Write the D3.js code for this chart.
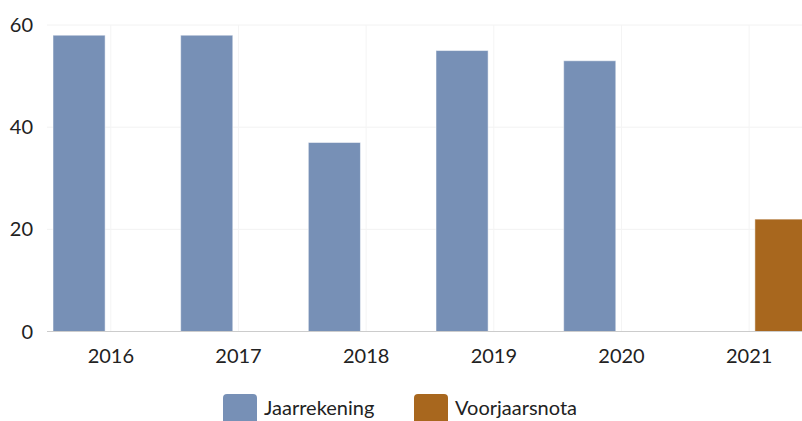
<!DOCTYPE html>
<html>
<head>
<meta charset="utf-8">
<script src="https://cdn.jsdelivr.net/npm/d3@7"></script>
<style>
  body { margin: 0; background: #fff; font-family: Lato, "Open Sans", sans-serif; }
  .chart { width: 802px; height: 421px; overflow: hidden; position: relative; }
</style>
</head>
<body>
<div class="chart"></div>
<script>
const years = ["2016", "2017", "2018", "2019", "2020", "2021"];
const seriesNames = ["Jaarrekening", "Voorjaarsnota"];
const jaarrekening = [58, 58, 37, 55, 53, null];
const voorjaarsnota = [null, null, null, null, null, 22];
const yTicks = [0, 20, 40, 60];
const colors = ["#7790b6", "#a8671e"];

const width = 802, height = 421;

// the chart is wider than the window, the last group is cut off on the right
const x = d3.scaleBand().domain(years).range([47, 813]);
const inner = d3.scaleBand().domain(seriesNames).range([6, x.bandwidth() - 6]).paddingInner(0.18);
const y = d3.scaleLinear().domain([0, 60]).range([331.5, 25]);

const svg = d3.select(".chart").append("svg")
  .attr("width", width)
  .attr("height", height);

// gridlines
svg.append("g")
  .selectAll("line")
  .data(yTicks.filter(d => d > 0))
  .join("line")
  .attr("x1", 47).attr("x2", width)
  .attr("y1", d => y(d)).attr("y2", d => y(d))
  .attr("stroke", "#f2f2f2");

svg.append("g")
  .selectAll("line")
  .data(years)
  .join("line")
  .attr("x1", d => x(d) + x.bandwidth() / 2).attr("x2", d => x(d) + x.bandwidth() / 2)
  .attr("y1", y(60)).attr("y2", y(0))
  .attr("stroke", "#f4f4f4");

// bars
const rows = years.map((yr, i) => ({ year: yr, values: [jaarrekening[i], voorjaarsnota[i]] }));

svg.append("g")
  .selectAll("g")
  .data(rows)
  .join("g")
  .attr("transform", d => `translate(${x(d.year)},0)`)
  .selectAll("rect")
  .data(d => d.values.map((v, j) => ({ name: seriesNames[j], value: v, color: colors[j] })).filter(d => d.value != null))
  .join("rect")
  .attr("x", d => inner(d.name))
  .attr("width", inner.bandwidth())
  .attr("y", d => y(d.value))
  .attr("height", d => y(0) - y(d.value))
  .attr("fill", d => d.color)
  .attr("stroke", "#fff")
  .attr("stroke-opacity", 0.5)
  .attr("stroke-width", 1);

// baseline
svg.append("line")
  .attr("x1", 47).attr("x2", width)
  .attr("y1", y(0)).attr("y2", y(0))
  .attr("stroke", "#cccccc");

// y labels
svg.append("g")
  .selectAll("text")
  .data(yTicks)
  .join("text")
  .attr("x", 33)
  .attr("y", d => y(d))
  .attr("dy", "0.35em")
  .attr("text-anchor", "end")
  .attr("font-size", 20)
  .attr("fill", "#222")
  .text(d => d);

// x labels
svg.append("g")
  .selectAll("text")
  .data(years)
  .join("text")
  .attr("x", d => x(d) + x.bandwidth() / 2)
  .attr("y", 363)
  .attr("text-anchor", "middle")
  .attr("font-size", 20)
  .attr("fill", "#222")
  .text(d => d);

// legend
const legendX = [223, 414];
const legend = svg.append("g")
  .selectAll("g")
  .data(seriesNames)
  .join("g")
  .attr("transform", (d, i) => `translate(${legendX[i]},394)`);

legend.append("rect")
  .attr("width", 34).attr("height", 34)
  .attr("rx", 4)
  .attr("fill", (d, i) => colors[i]);

legend.append("text")
  .attr("x", 41)
  .attr("y", 21)
  .attr("font-size", 20)
  .attr("fill", "#222")
  .text(d => d);
</script>
</body>
</html>
